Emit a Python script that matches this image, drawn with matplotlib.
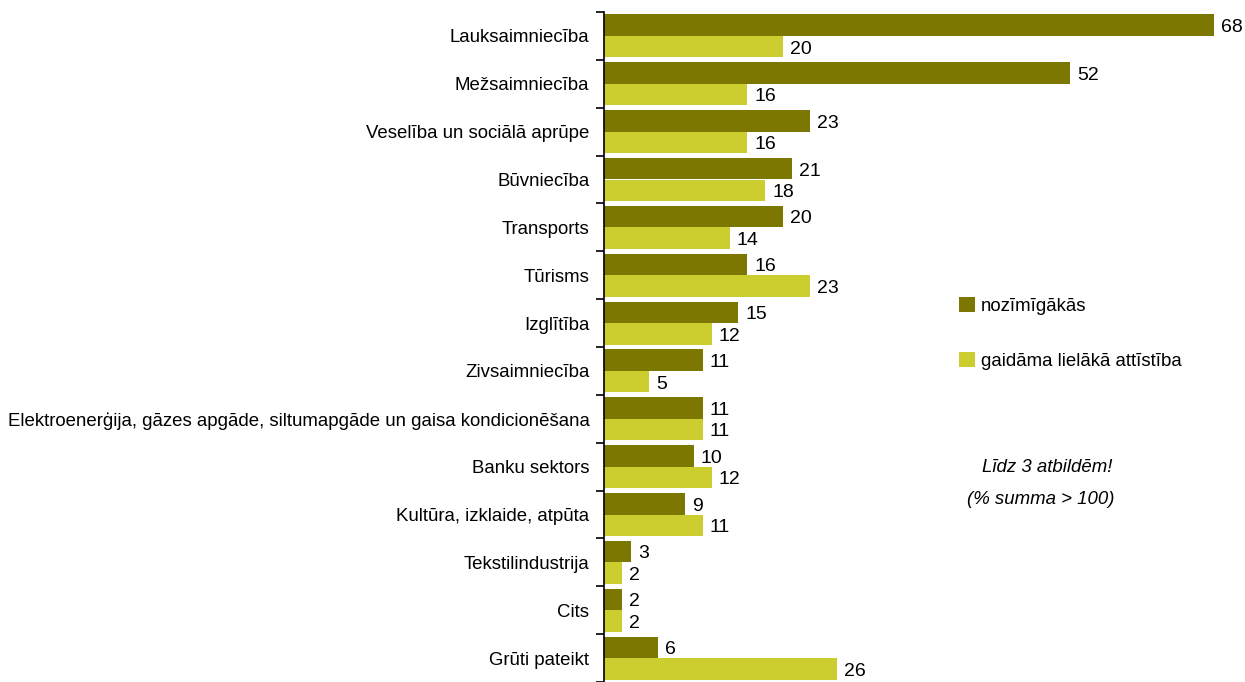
import matplotlib.pyplot as plt
import numpy as np

# dati
kategorijas = ['Lauksaimniecība', 'Mežsaimniecība', 'Veselība un sociālā aprūpe',
               'Būvniecība', 'Transports', 'Tūrisms', 'Izglītība', 'Zivsaimniecība',
               'Elektroenerģija, gāzes apgāde, siltumapgāde un gaisa kondicionēšana',
               'Banku sektors', 'Kultūra, izklaide, atpūta', 'Tekstilindustrija',
               'Cits', 'Grūti pateikt']
nozimigakas = [68, 52, 23, 21, 20, 16, 15, 11, 11, 10, 9, 3, 2, 6]
attistiba = [20, 16, 16, 18, 14, 23, 12, 5, 11, 12, 11, 2, 2, 26]
serijas = ['nozīmīgākās', 'gaidāma lielākā attīstība']

krasa1 = '#7B7700'
krasa2 = '#CCCD2E'

plt.rcParams['font.family'] = ['Liberation Sans', 'DejaVu Sans']
fs = 13.4

W, H = 1245, 682
fig = plt.figure(figsize=(W / 100, H / 100), dpi=100)
ax = fig.add_axes([604 / W, 0, 1 - 604 / W, 1 - 12 / H])

y = np.arange(len(kategorijas))
h = 0.45
b1 = ax.barh(y - h / 2, nozimigakas, height=h, color=krasa1, label=serijas[0])
b2 = ax.barh(y + h / 2, attistiba, height=h, color=krasa2, label=serijas[1])

# vērtību uzraksti
for bars, vals in ((b1, nozimigakas), (b2, attistiba)):
    for rect, v in zip(bars, vals):
        ax.text(rect.get_width() + 0.8, rect.get_y() + rect.get_height() / 2 + 0.05,
                str(v), va='center', ha='left', fontsize=14)

ax.set_ylim(len(kategorijas) - 0.5, -0.5)
ax.set_xlim(0, 71.5)

ax.set_yticks(y)
ax.set_yticklabels(kategorijas, fontsize=fs)
ax.tick_params(axis='y', which='major', length=0, pad=10.5)
ax.set_yticks(np.arange(len(kategorijas) + 1) - 0.5, minor=True)
ax.tick_params(axis='y', which='minor', length=6, width=1.2)
ax.set_xticks([])

for s in ['top', 'right', 'bottom']:
    ax.spines[s].set_visible(False)
ax.spines['left'].set_linewidth(1.2)

leg = fig.legend(handles=[b1, b2], loc='upper left',
                 bbox_to_anchor=(942 / W, 1 - 280 / H), frameon=False,
                 fontsize=fs, handlelength=0.88, handleheight=0.88,
                 handletextpad=0.3, labelspacing=2.0)

fig.text(1047 / W, 1 - 468 / H, 'Līdz 3 atbildēm!', ha='center', va='center',
         fontsize=fs, style='italic')
fig.text(1041 / W, 1 - 500 / H, '(% summa > 100)', ha='center', va='center',
         fontsize=fs, style='italic')

fig.savefig('out.png', dpi=100)
